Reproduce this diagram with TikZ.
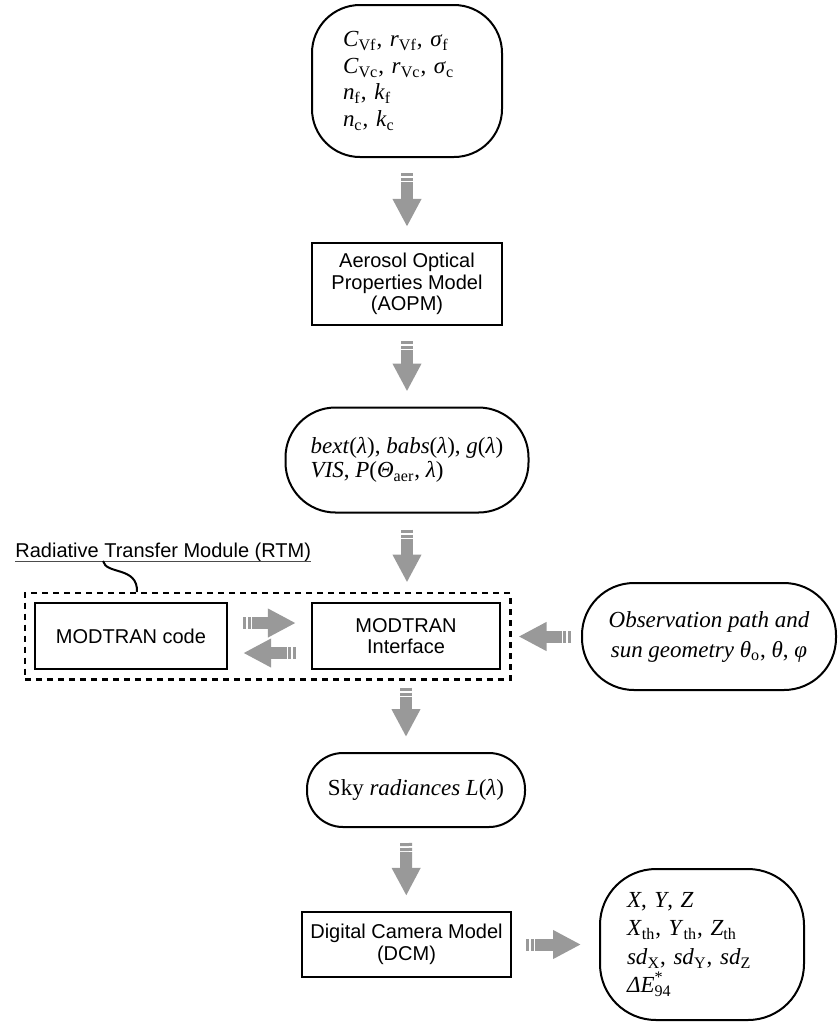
\documentclass[tikz,border=0pt]{standalone}
\usepackage{fontspec}
\setmainfont{Liberation Serif}
\setsansfont{Liberation Sans}
\usetikzlibrary{arrows.meta,fit}
\newcommand{\lo}[1]{\textsubscript{#1}}

\begin{document}
\begin{tikzpicture}[x=0.5pt,y=-0.5pt, % one unit = one pixel of the sketch
  box/.style={draw,line width=1.2pt,minimum width=#1,align=center,font=\fontsize{10pt}{10.75pt}\sffamily},
  blob/.style={draw,line width=1pt,font=\fontsize{11.5pt}{#1}\selectfont},
  garrow/.style={draw=black!40,line width=6pt,dash pattern=on 1.5pt off 1pt on 1.5pt off 0.6pt on 60pt off 1pt,
    -{Triangle[length=14pt 0 0,width=13.5pt 0 0]},shorten <=7.5pt,shorten >=7.5pt}]
\useasboundingbox (0,0) rectangle (838,1025);

% main column
\node[blob=13.25pt,minimum width=95pt,minimum height=76pt,rounded corners=24pt,text width=64pt,align=left] (par) at (407,81)
  {\textit{C}\lo{Vf}, \textit{r}\lo{Vf}, \textit{σ}\lo{f}\\
   \textit{C}\lo{Vc}, \textit{r}\lo{Vc}, \textit{σ}\lo{c}\\
   \textit{n}\lo{f}, \textit{k}\lo{f}\\
   \textit{n}\lo{c}, \textit{k}\lo{c}};
\node[box=95pt,minimum height=41pt] (aopm) at (407,284) {Aerosol Optical\\Properties Model\\(AOPM)};
\node[blob=12pt,minimum width=121.5pt,minimum height=52.5pt,rounded corners=25pt,align=left] (aer) at (407,460)
  {\textit{bext}(\textit{λ}), \textit{babs}(\textit{λ}), \textit{g}(\textit{λ})\\
   \textit{VIS}, \textit{P}(\textit{Θ}\lo{aer}, \textit{λ})};

% radiative transfer module
\node[box=96pt,minimum height=33pt] (code) at (131,636) {MODTRAN code};
\node[box=94pt,minimum height=33pt] (iface) at (406,636) {MODTRAN\\Interface};
\node[draw,line width=1.3pt,dash pattern=on 3pt off 2.5pt,inner sep=4.5pt,fit=(code)(iface)] (rtm) {};
\node[anchor=base west,inner sep=0pt,font=\fontsize{10pt}{12pt}\sffamily] (rtmlab) at (15,557) {Radiative Transfer Module (RTM)};
\draw[line width=0.6pt,black!70] (rtmlab.south west) -- (rtmlab.south east);
\coordinate (tagA) at (103,561);
\coordinate (tagB) at (137,592);
\draw[line width=1pt] (tagA) .. controls (106,575) and (138,566) .. (tagB);

\node[blob=15pt,minimum width=127pt,minimum height=53.5pt,rounded corners=26pt,align=center] (obs) at (709,636.5)
  {\textit{Observation path and}\\\textit{sun geometry θ}\lo{o}, \textit{θ}, \textit{φ}};

% camera part
\node[blob=13pt,minimum width=109pt,minimum height=37pt,rounded corners=18pt] (sky) at (416,790) {Sky \textit{radiances L}(\textit{λ})};
\node[box=104.5pt,minimum height=32.5pt] (dcm) at (406.5,944.5) {Digital Camera Model\\(DCM)};
\node[blob=14.25pt,minimum width=102pt,minimum height=75.5pt,rounded corners=28pt,text width=75pt,align=left] (res) at (702,944.5)
  {\textit{X}, \textit{Y}, \textit{Z}\\
   \textit{X}\lo{th}, \textit{Y}\lo{th}, \textit{Z}\lo{th}\\
   \textit{sd}\lo{X}, \textit{sd}\lo{Y}, \textit{sd}\lo{Z}\\
   \textit{ΔE}\makebox[0pt][l]{\raisebox{1pt}{\textsuperscript{*}}}\lo{94}};

% grey block arrows
\foreach \a/\b in {par/aopm,aopm/aer}
  \draw[garrow] (\a) -- (\b);
\draw[garrow,shorten <=8pt,shorten >=4.5pt] (aer) -- (aer |- rtm.north);
\draw[garrow,shorten <=3.5pt] (iface |- rtm.south) -- (iface |- sky.north);
\draw[garrow] (iface |- sky.south) -- (dcm);
\draw[garrow] ([yshift=6.5pt]code.east) -- ([yshift=6.5pt]iface.west);
\draw[garrow] ([yshift=-8.5pt]iface.west) -- ([yshift=-8.5pt]code.east);
\draw[garrow,shorten <=5pt,shorten >=3.5pt] (obs.west) -- (rtm.east |- obs.west);
\draw[garrow,shorten <=7pt,shorten >=9pt] (dcm) -- (res);
\end{tikzpicture}
\end{document}
